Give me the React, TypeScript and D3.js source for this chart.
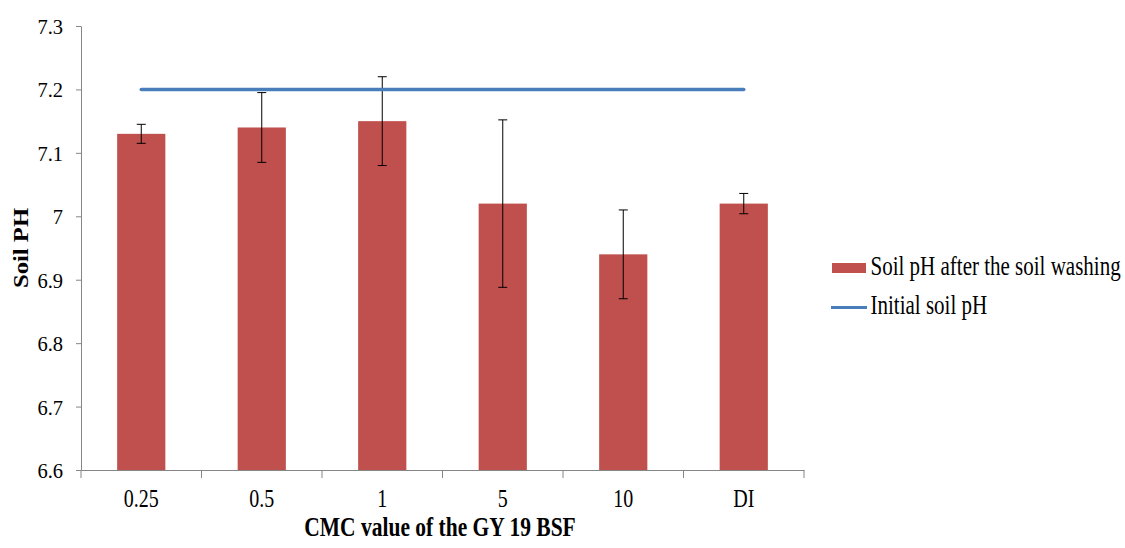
import React, { useEffect, useRef } from 'react'
import * as d3 from 'd3'

// 各处理的类别、均值和误差
const categories = ['0.25', '0.5', '1', '5', '10', 'DI']
const soilPh = [7.13, 7.14, 7.15, 7.02, 6.94, 7.02]
const errors = [0.015, 0.055, 0.07, 0.132, 0.07, 0.016]
const initialPh = [7.2, 7.2, 7.2, 7.2, 7.2, 7.2]
const yTicks = [6.6, 6.7, 6.8, 6.9, 7, 7.1, 7.2, 7.3]

const W = 1125
const H = 548
const FONT = "'Liberation Serif', 'Times New Roman', 'DejaVu Serif', serif"

const App = () => {
  const ref = useRef<SVGSVGElement>(null)

  useEffect(() => {
    const svg = d3.select(ref.current)
    svg.selectAll('*').remove()

    const left = 81
    const right = 804
    const top = 26
    const bottom = 470

    const x = d3.scaleBand().domain(categories).range([left, right]).paddingInner(0.6).paddingOuter(0.3)
    const xc = d3.scaleBand().domain(categories).range([left, right])
    const y = d3.scaleLinear().domain([6.6, 7.3]).range([bottom, top])

    // 纵轴
    const yAxis = svg
      .append('g')
      .attr('transform', `translate(${left},0)`)
      .call(d3.axisLeft(y).tickValues(yTicks).tickSize(5).tickSizeOuter(0).tickFormat((d) => String(d)))
    yAxis.attr('font-family', FONT).attr('font-size', 20.5)
    yAxis.select('.domain').attr('stroke', '#868686')
    yAxis.selectAll('.tick line').attr('stroke', '#868686')
    yAxis
      .selectAll('.tick text')
      .attr('x', -18)
      .attr('dy', '0.34em')
      .attr('transform', 'scale(1,1.07)')
      .attr('fill', '#000')

    // 横轴
    const xAxis = svg
      .append('g')
      .attr('transform', `translate(0,${bottom})`)
      .call(d3.axisBottom(xc).tickSize(0).tickSizeOuter(0))
    xAxis.attr('font-family', FONT).attr('font-size', 20)
    xAxis.select('.domain').attr('stroke', '#868686')
    xAxis
      .selectAll('.tick text')
      .attr('y', 29.5)
      .attr('dy', 0)
      .attr('transform', 'scale(1,1.25)')
      .attr('fill', '#000')
    // 类别分隔刻度
    svg
      .selectAll('.xsep')
      .data(categories.concat(['end']))
      .enter()
      .append('line')
      .attr('x1', (d, i) => left + i * xc.bandwidth())
      .attr('x2', (d, i) => left + i * xc.bandwidth())
      .attr('y1', bottom)
      .attr('y2', bottom + 8)
      .attr('stroke', '#868686')

    // 柱子
    svg
      .selectAll('.bar')
      .data(soilPh)
      .enter()
      .append('rect')
      .attr('x', (d, i) => x(categories[i]) as number)
      .attr('width', x.bandwidth())
      .attr('y', (d) => y(d))
      .attr('height', (d) => bottom - y(d))
      .attr('fill', '#c0504d')

    // 误差线
    const eg = svg.selectAll('.err').data(soilPh).enter().append('g')
    const cx = (i: number) => (x(categories[i]) as number) + x.bandwidth() / 2
    eg.append('line')
      .attr('x1', (d, i) => cx(i))
      .attr('x2', (d, i) => cx(i))
      .attr('y1', (d, i) => y(d + errors[i]))
      .attr('y2', (d, i) => y(d - errors[i]))
      .attr('stroke', '#000')
    eg.append('line')
      .attr('x1', (d, i) => cx(i) - 4.5)
      .attr('x2', (d, i) => cx(i) + 4.5)
      .attr('y1', (d, i) => y(d + errors[i]))
      .attr('y2', (d, i) => y(d + errors[i]))
      .attr('stroke', '#000')
    eg.append('line')
      .attr('x1', (d, i) => cx(i) - 4.5)
      .attr('x2', (d, i) => cx(i) + 4.5)
      .attr('y1', (d, i) => y(d - errors[i]))
      .attr('y2', (d, i) => y(d - errors[i]))
      .attr('stroke', '#000')

    // 初始pH线
    const line = d3
      .line<number>()
      .x((d, i) => (xc(categories[i]) as number) + xc.bandwidth() / 2)
      .y((d) => y(d))
    svg
      .append('path')
      .datum(initialPh)
      .attr('d', line)
      .attr('fill', 'none')
      .attr('stroke', '#4a7ebb')
      .attr('stroke-width', 3.5)
      .attr('stroke-linecap', 'round')

    // 坐标轴标题（原图文字纵向拉伸）
    svg
      .append('text')
      .text('Soil PH')
      .attr('transform', 'translate(28,248) rotate(-90) scale(1.19,1)')
      .attr('text-anchor', 'middle')
      .attr('font-family', FONT)
      .attr('font-size', 20.7)
      .attr('font-weight', 'bold')
    svg
      .append('text')
      .text('CMC value of the GY 19 BSF')
      .attr('transform', 'translate(440,536) scale(1,1.25)')
      .attr('text-anchor', 'middle')
      .attr('font-family', FONT)
      .attr('font-size', 21.5)
      .attr('font-weight', 'bold')

    // 图例
    svg.append('rect').attr('x', 832).attr('y', 263).attr('width', 34).attr('height', 10).attr('fill', '#c0504d')
    svg
      .append('text')
      .text('Soil pH after the soil washing')
      .attr('transform', 'translate(870.5,275) scale(1,1.25)')
      .attr('font-family', FONT)
      .attr('font-size', 21)
    svg
      .append('line')
      .attr('x1', 831)
      .attr('x2', 867)
      .attr('y1', 307.5)
      .attr('y2', 307.5)
      .attr('stroke', '#4a7ebb')
      .attr('stroke-width', 3)
    svg
      .append('text')
      .text('Initial soil pH')
      .attr('transform', 'translate(870.5,314) scale(1,1.25)')
      .attr('font-family', FONT)
      .attr('font-size', 21)
  }, [])

  return <svg ref={ref} width={W} height={H} style={{ position: 'absolute', left: 0, top: 0 }} />
}

export default App
